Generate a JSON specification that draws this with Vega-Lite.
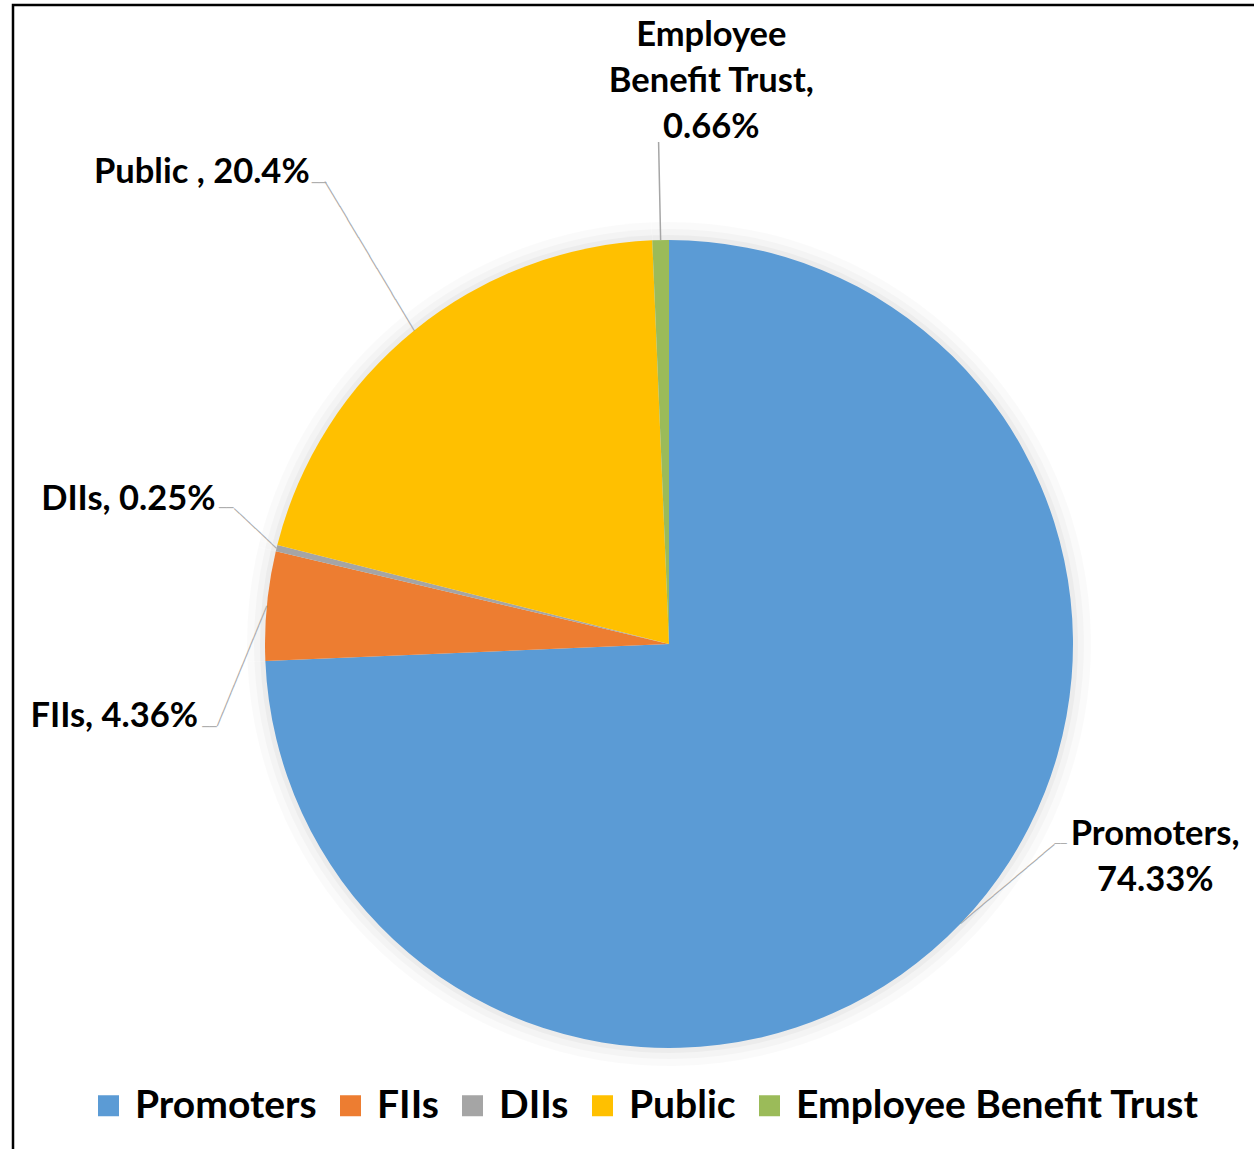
{
  "$schema": "https://vega.github.io/schema/vega-lite/v6.json",
  "width": 1312,
  "height": 1278,
  "autosize": {"type": "none"},
  "padding": {"left": 13, "top": 5, "right": 0, "bottom": 0},
  "background": "white",
  "view": {"stroke": "#000000", "strokeWidth": 2.5},
  "config": {"font": "Lato"},
  "data": {
    "values": [
      {"idx": 1, "category": "Promoters", "value": 74.33, "label": "Promoters,\n74.33%"},
      {"idx": 2, "category": "FIIs", "value": 4.36, "label": "FIIs, 4.36%"},
      {"idx": 3, "category": "DIIs", "value": 0.25, "label": "DIIs, 0.25%"},
      {"idx": 4, "category": "Public", "value": 20.4, "label": "Public , 20.4%"},
      {"idx": 5, "category": "Employee Benefit Trust", "value": 0.66, "label": "Employee\nBenefit Trust,\n0.66%"}
    ]
  },
  "encoding": {
    "theta": {"field": "value", "type": "quantitative", "stack": true},
    "order": {"field": "idx", "type": "quantitative"}
  },
  "layer": [
    {"mark": {"type": "arc", "radius": 422, "fill": "#000000", "fillOpacity": 0.02}},
    {"mark": {"type": "arc", "radius": 415, "fill": "#000000", "fillOpacity": 0.025}},
    {"mark": {"type": "arc", "radius": 409, "fill": "#000000", "fillOpacity": 0.03}},
    {
      "mark": {"type": "arc", "radius": 404},
      "encoding": {
        "color": {
          "field": "category",
          "type": "nominal",
          "scale": {
            "domain": ["Promoters", "FIIs", "DIIs", "Public", "Employee Benefit Trust"],
            "range": ["#5B9BD5", "#ED7D31", "#A5A5A5", "#FFC000", "#9BBB59"]
          },
          "legend": {
            "orient": "none",
            "legendX": 76,
            "legendY": 1081,
            "direction": "horizontal",
            "title": null,
            "symbolType": "square",
            "symbolSize": 441,
            "symbolStrokeWidth": 0,
            "labelFontSize": 39,
            "labelFontWeight": "bold",
            "labelColor": "#000000",
            "labelFont": "Lato",
            "labelLimit": 0,
            "labelOffset": 7,
            "columnPadding": 14,
            "padding": 0
          }
        }
      }
    },
    {
      "mark": {"type": "arc", "radius": 502, "radius2": 404, "padAngle": 3.14, "fillOpacity": 0, "stroke": "#A6A6A6", "strokeWidth": 1.5},
      "encoding": {"strokeOpacity": {"condition": {"test": "datum.category === 'Employee Benefit Trust'", "value": 1}, "value": 0}}
    },
    {
      "mark": {"type": "text", "radius": 404, "angle": -120.9, "align": "left", "baseline": "middle", "font": "DejaVu Sans Mono", "fontSize": 12, "color": "#A6A6A6"},
      "encoding": {"text": {"condition": {"test": "datum.category === 'Public'", "value": "────────────────────────"}, "value": ""}}
    },
    {
      "mark": {"type": "text", "radius": 404, "dx": -88, "dy": -147, "align": "right", "baseline": "middle", "font": "DejaVu Sans Mono", "fontSize": 12, "color": "#A6A6A6"},
      "encoding": {"text": {"condition": {"test": "datum.category === 'Public'", "value": "──"}, "value": ""}}
    },
    {
      "mark": {"type": "text", "radius": 404, "angle": -136.9, "align": "left", "baseline": "middle", "font": "DejaVu Sans Mono", "fontSize": 12, "color": "#A6A6A6"},
      "encoding": {"text": {"condition": {"test": "datum.category === 'DIIs'", "value": "────────"}, "value": ""}}
    },
    {
      "mark": {"type": "text", "radius": 404, "dx": -43, "dy": -40, "align": "right", "baseline": "middle", "font": "DejaVu Sans Mono", "fontSize": 12, "color": "#A6A6A6"},
      "encoding": {"text": {"condition": {"test": "datum.category === 'DIIs'", "value": "──"}, "value": ""}}
    },
    {
      "mark": {"type": "text", "radius": 404, "angle": 112.4, "align": "left", "baseline": "middle", "font": "DejaVu Sans Mono", "fontSize": 12, "color": "#A6A6A6"},
      "encoding": {"text": {"condition": {"test": "datum.category === 'FIIs'", "value": "──────────────────"}, "value": ""}}
    },
    {
      "mark": {"type": "text", "radius": 404, "dx": -50, "dy": 121, "align": "right", "baseline": "middle", "font": "DejaVu Sans Mono", "fontSize": 12, "color": "#A6A6A6"},
      "encoding": {"text": {"condition": {"test": "datum.category === 'FIIs'", "value": "──"}, "value": ""}}
    },
    {
      "mark": {"type": "text", "radius": 404, "angle": -40.1, "align": "left", "baseline": "middle", "font": "DejaVu Sans Mono", "fontSize": 12, "color": "#A6A6A6"},
      "encoding": {"text": {"condition": {"test": "datum.category === 'Promoters'", "value": "─────────────────"}, "value": ""}}
    },
    {
      "mark": {"type": "text", "radius": 404, "dx": 94, "dy": -80, "align": "left", "baseline": "middle", "font": "DejaVu Sans Mono", "fontSize": 10, "color": "#A6A6A6"},
      "encoding": {"text": {"condition": {"test": "datum.category === 'Promoters'", "value": "──"}, "value": ""}}
    },
    {
      "mark": {"type": "text", "radius": 564, "dx": 54, "dy": -44, "align": "center", "baseline": "middle", "fontSize": 34.5, "fontWeight": "bold", "lineBreak": "\n", "lineHeight": 46, "color": "#000000"},
      "encoding": {"text": {"condition": {"test": "datum.category === 'Employee Benefit Trust'", "field": "label", "type": "nominal"}, "value": ""}}
    },
    {
      "mark": {"type": "text", "radius": 592, "dx": 14, "dy": -12, "align": "right", "baseline": "middle", "fontSize": 34.5, "fontWeight": "bold", "color": "#000000"},
      "encoding": {"text": {"condition": {"test": "datum.category === 'Public'", "field": "label", "type": "nominal"}, "value": ""}}
    },
    {
      "mark": {"type": "text", "radius": 473, "dx": 6, "dy": -32, "align": "right", "baseline": "middle", "fontSize": 34.5, "fontWeight": "bold", "color": "#000000"},
      "encoding": {"text": {"condition": {"test": "datum.category === 'DIIs'", "field": "label", "type": "nominal"}, "value": ""}}
    },
    {
      "mark": {"type": "text", "radius": 460, "dx": -13, "dy": 117, "align": "right", "baseline": "middle", "fontSize": 34.5, "fontWeight": "bold", "color": "#000000"},
      "encoding": {"text": {"condition": {"test": "datum.category === 'FIIs'", "field": "label", "type": "nominal"}, "value": ""}}
    },
    {
      "mark": {"type": "text", "radius": 499, "dx": 126, "dy": -154, "align": "center", "baseline": "middle", "fontSize": 34.5, "fontWeight": "bold", "lineBreak": "\n", "lineHeight": 46, "color": "#000000"},
      "encoding": {"text": {"condition": {"test": "datum.category === 'Promoters'", "field": "label", "type": "nominal"}, "value": ""}}
    }
  ]
}
